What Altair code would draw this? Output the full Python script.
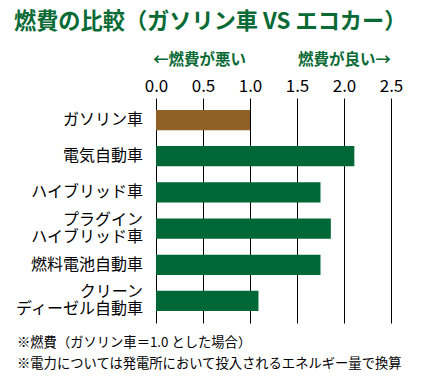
import altair as alt
import pandas as pd

categories = ["ガソリン車", "電気自動車", "ハイブリッド車", "プラグイン\nハイブリッド車", "燃料電池自動車", "クリーン\nディーゼル自動車"]
values = [1.0, 2.11, 1.75, 1.86, 1.75, 1.09]
kinds = ["gas", "eco", "eco", "eco", "eco", "eco"]
x_ticks = [0.0, 0.5, 1.0, 1.5, 2.0, 2.5]

title_text = ["燃費の比較（ガソリン車 VS エコカー）"]
left_note = ["←燃費が悪い"]
right_note = ["燃費が良い→"]
footnotes = ["※燃費（ガソリン車＝1.0 とした場合）", "※電力については発電所において投入されるエネルギー量で換算"]

FONT = "Noto Sans CJK JP"
GREEN = "#006837"
BROWN = "#8f6127"
TITLE_GREEN = "#0a6a35"

df = pd.DataFrame({"cat": categories, "val": values, "kind": kinds})

yscale = alt.Scale(paddingInner=0.44, paddingOuter=0.33)

bars = alt.Chart(df).mark_bar().encode(
    x=alt.X("val:Q", scale=alt.Scale(domain=[0, 2.5], nice=False, zero=True),
            axis=alt.Axis(orient="top", values=x_ticks, format=".1f", title=None,
                          grid=True, gridColor="#000000", gridWidth=1, gridOpacity=1,
                          domain=False, ticks=False, labelFontSize=17, labelColor="#000000",
                          labelFont=FONT, labelPadding=3, labelFlush=False)),
    y=alt.Y("cat:N", sort=None, scale=yscale, axis=None),
    color=alt.Color("kind:N", scale=alt.Scale(domain=["gas", "eco"], range=[BROWN, GREEN]), legend=None),
)

label_base = alt.Chart(df).encode(
    x=alt.value(-13),
    y=alt.Y("cat:N", sort=None, scale=yscale, axis=None),
    text="cat:N",
)

ylabels1 = label_base.mark_text(
    align="right", baseline="middle", font=FONT, fontSize=16, color="#000000",
).transform_filter("indexof(datum.cat, '\\n') < 0")

ylabels2 = label_base.mark_text(
    align="right", baseline="middle", font=FONT, fontSize=16, color="#000000",
    lineBreak="\n", lineHeight=17, dy=-8.5
).transform_filter("indexof(datum.cat, '\\n') >= 0")

title = alt.Chart(pd.DataFrame({"t": title_text})).mark_text(
    align="left", baseline="middle", font=FONT, fontSize=22.2, fontWeight="bold", color=TITLE_GREEN
).encode(x=alt.value(-142), y=alt.value(-76), text="t:N")

lnote = alt.Chart(pd.DataFrame({"t": left_note})).mark_text(
    align="left", baseline="middle", font=FONT, fontSize=15.5, fontWeight="bold", color=TITLE_GREEN
).encode(x=alt.value(-3), y=alt.value(-38), text="t:N")

rnote = alt.Chart(pd.DataFrame({"t": right_note})).mark_text(
    align="right", baseline="middle", font=FONT, fontSize=15.5, fontWeight="bold", color=TITLE_GREEN
).encode(x=alt.value(235), y=alt.value(-38), text="t:N")

fn1 = alt.Chart(pd.DataFrame({"t": footnotes[:1]})).mark_text(
    align="left", baseline="middle", font=FONT, fontSize=13.3, color="#000000"
).encode(x=alt.value(-139), y=alt.value(245), text="t:N")

fn2 = alt.Chart(pd.DataFrame({"t": footnotes[1:]})).mark_text(
    align="left", baseline="middle", font=FONT, fontSize=13.3, color="#000000"
).encode(x=alt.value(-139), y=alt.value(266), text="t:N")

chart = alt.layer(bars, ylabels1, ylabels2, title, lnote, rnote, fn1, fn2).properties(
    width=235, height=225,
    autosize=alt.AutoSizeParams(type="none"),
    padding={"left": 156, "top": 98, "right": 31, "bottom": 54},
    background="#ffffff",
).configure_view(stroke=None)

chart.save("out.html", embed_options={"renderer": "svg", "actions": False})
